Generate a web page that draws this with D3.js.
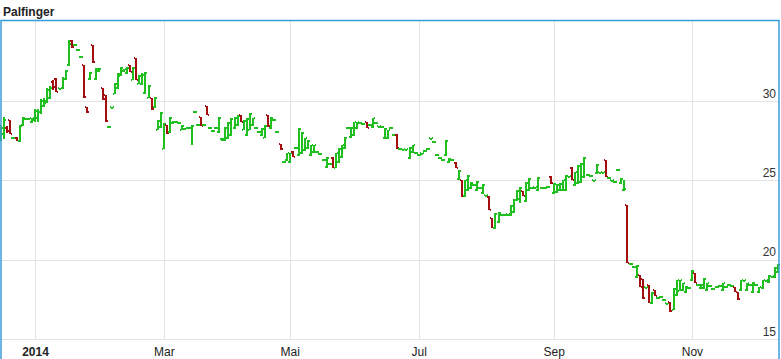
<!DOCTYPE html>
<html>
<head>
<meta charset="utf-8">
<script src="https://cdn.jsdelivr.net/npm/d3@7"></script>
<style>
  body { margin: 0; background: #fff; }
  svg { display: block; font-family: "Liberation Sans", Arial, sans-serif; }
</style>
</head>
<body>
<div id="chart"></div>
<script>
// trading days: weekdays from 2013-12-11 to 2014-12-11 minus exchange holidays
const firstDay = "2013-12-11", lastDay = "2014-12-11";
const holidays = ["2013-12-24", "2013-12-25", "2013-12-26", "2013-12-31",
  "2014-01-01", "2014-04-18", "2014-04-21", "2014-05-01"];

const tickDates = ["2014-01-02", "2014-03-03", "2014-05-02", "2014-07-01", "2014-09-01", "2014-11-03"];
const tickLabels = ["2014", "Mar", "Mai", "Jul", "Sep", "Nov"];
const priceTicks = [15, 20, 25, 30];

// daily OHLC
const open = [27.6,27.9,28.3,28.8,27.65,27.7,27.5,28.5,28.85,28.85,28.65,28.8,28.9,29.3,29.7,29.9,30.2,31.2,31.4,30.8,
  30.8,31.4,32.3,33.8,33.5,33.2,32.8,32.3,29.6,31.4,33.5,31.4,31.9,30.8,30.4,28.35,29.6,30.45,30.8,31.6,
  31.9,31.75,32.25,31.3,32.7,31.1,31.05,30.5,30.2,30.2,29.6,28.2,28.35,27.0,28.5,28.05,28.6,28.7,28.6,28.2,
  28.25,28.3,28.3,29.3,28.5,29.0,28.5,29.7,28.3,28.1,28.3,28.05,27.6,27.55,27.65,27.85,28.3,28.5,29.1,28.2,
  27.85,28.2,28.5,28.3,28.05,27.85,27.7,29.1,28.3,28.8,28.05,27.3,26.15,26.3,26.15,26.8,27.05,26.6,26.7,26.9,
  27.05,26.6,26.8,26.8,26.65,26.3,25.85,26.0,26.4,25.8,26.15,26.45,27.05,28.3,27.75,27.85,28.3,28.6,28.55,28.65,
  28.5,28.35,28.6,28.4,28.35,27.65,27.65,28.3,27.85,27.85,27.0,26.95,26.95,26.4,26.8,26.75,26.6,26.7,26.85,27.0,
  27.65,27.4,26.6,26.4,26.3,26.6,26.15,26.3,26.1,25.1,25.0,24.0,24.4,24.5,24.7,24.4,24.5,24.2,24.05,23.95,
  22.6,22.0,22.35,22.8,22.8,22.85,22.8,23.0,23.75,23.85,24.3,23.7,24.4,24.5,24.55,24.4,24.5,24.5,24.6,25.2,
  24.2,24.25,24.4,24.4,24.4,25.25,25.8,24.7,24.85,24.9,25.2,25.35,25.3,25.0,25.45,25.5,25.5,26.3,25.15,25.0,
  24.9,25.65,24.85,24.4,23.45,19.75,19.55,18.9,19.05,18.8,18.25,18.4,17.25,18.1,17.6,17.65,17.45,17.25,17.35,16.85,
  17.75,18.05,18.1,17.95,18.2,18.7,19.15,18.4,18.2,18.2,18.1,18.35,18.15,18.3,18.35,18.1,18.3,18.4,18.35,18.3,
  17.95,18.1,18.7,18.1,18.4,17.95,18.4,17.95,18.2,18.7,18.6,18.95,18.9,19.2];
const high = [28.5,29.0,28.4,28.8,27.75,27.75,28.5,29.0,28.9,28.95,28.95,29.5,29.5,30.1,30.2,30.85,30.95,31.3,31.45,30.85,
  31.5,31.95,33.85,33.85,33.6,33.25,32.85,32.3,29.6,31.8,33.55,32.1,32.1,30.85,30.4,28.4,29.65,31.15,31.75,32.15,
  32.05,32.15,32.3,32.15,32.7,31.65,31.75,31.8,31.0,30.2,30.25,28.8,29.3,28.6,28.5,29.0,28.75,28.75,28.65,28.5,
  28.3,28.35,28.5,29.35,28.55,29.0,28.55,29.7,28.35,28.15,28.35,29.0,27.65,28.35,28.65,28.9,29.0,29.1,29.15,28.8,
  28.9,29.25,28.95,28.35,28.1,28.3,28.5,29.15,29.0,28.85,28.1,27.3,26.2,26.75,26.75,26.85,27.1,28.3,28.05,27.7,
  27.55,27.25,27.25,26.85,26.7,26.35,26.45,26.1,26.45,26.75,27.05,27.25,27.75,28.35,28.35,28.7,28.7,28.65,28.6,28.65,
  28.55,28.95,28.65,28.45,28.4,28.3,28.2,28.35,27.9,27.9,27.05,27.0,27.0,27.1,27.25,26.8,26.65,26.75,26.9,27.05,
  27.7,27.45,26.65,26.45,26.35,27.55,26.4,26.35,26.15,25.65,25.05,25.05,25.35,24.9,24.75,24.95,24.55,24.75,24.1,24.0,
  22.65,22.95,23.0,22.85,22.85,22.9,23.45,23.8,24.4,24.55,24.35,24.9,25.15,24.55,24.6,25.2,24.55,24.55,24.65,25.25,
  24.85,24.75,24.85,25.05,25.35,25.3,25.85,25.55,25.95,26.1,26.45,25.4,25.35,25.05,26.0,25.55,25.55,26.3,25.2,25.05,
  24.95,25.7,25.15,25.05,23.45,19.8,19.6,19.65,19.05,18.8,18.3,18.4,17.95,18.1,17.65,17.7,17.5,17.3,17.35,18.2,
  18.75,18.75,18.55,18.35,18.25,19.35,19.15,18.45,18.45,18.85,18.55,18.4,18.2,18.35,18.4,18.55,18.35,18.45,18.4,18.3,
  17.95,18.75,18.75,18.55,18.45,18.6,18.45,18.3,18.75,18.75,19.05,19.0,19.55,19.7];
const low = [27.5,27.6,28.0,27.9,27.6,27.45,27.4,28.45,28.8,28.8,28.6,28.7,28.7,29.2,29.6,29.9,30.1,30.7,30.55,30.7,
  30.75,31.3,32.2,33.35,33.45,33.15,32.75,30.2,29.25,31.35,32.4,31.35,31.85,30.05,28.7,28.3,29.55,30.45,30.75,31.55,
  31.85,31.7,31.8,31.3,31.3,31.1,31.0,30.45,30.2,29.45,29.55,28.15,28.3,26.95,27.95,28.0,28.55,28.65,28.55,28.15,
  28.2,28.25,27.2,29.25,28.45,28.4,28.45,29.1,28.25,28.05,28.25,28.0,27.5,27.5,27.6,27.8,28.25,28.45,28.65,28.15,
  27.8,28.15,28.45,28.25,28.0,27.8,27.65,28.35,28.25,28.75,28.0,26.9,26.1,26.25,26.1,26.45,27.0,26.55,26.65,26.85,
  27.0,26.55,26.75,26.75,26.6,26.25,25.8,25.95,25.75,25.75,26.1,26.4,27.0,28.25,27.7,27.8,28.25,28.55,28.5,28.3,
  28.45,28.3,28.55,28.35,28.3,27.6,27.6,28.25,27.8,27.0,26.95,26.9,26.9,26.35,26.75,26.7,26.55,26.65,26.8,26.95,
  27.6,27.35,26.55,26.35,26.25,26.55,26.1,26.25,25.75,25.05,23.95,23.95,24.35,24.45,24.65,24.35,24.45,24.15,24.0,23.15,
  22.0,21.95,22.3,22.75,22.75,22.8,22.75,22.95,23.7,23.6,24.0,23.65,24.35,24.45,24.5,24.35,24.45,24.45,24.55,24.8,
  24.15,24.2,24.35,24.35,24.35,25.2,25.0,24.65,24.8,24.85,25.15,25.3,25.25,24.95,25.4,25.45,25.45,25.2,25.1,24.95,
  24.85,25.6,24.8,24.35,19.8,19.7,19.5,18.85,18.25,17.55,18.2,17.25,17.2,17.7,17.55,17.6,17.4,17.2,16.7,16.8,
  17.7,18.0,18.05,17.9,18.15,18.65,18.5,18.35,18.15,18.15,18.05,18.3,18.1,18.25,18.3,18.05,18.25,18.35,18.3,17.95,
  17.45,18.05,18.65,18.05,18.35,17.9,18.35,17.9,18.15,18.65,18.55,18.9,18.85,19.15];
const close = [28.3,28.8,28.1,27.95,27.7,27.5,28.4,28.9,28.85,28.9,28.9,29.4,29.3,30.0,30.0,30.7,30.8,30.9,30.6,30.8,
  31.4,31.9,33.6,33.4,33.55,33.2,32.8,30.25,29.3,31.75,32.45,32.0,32.05,30.1,28.75,28.35,29.65,31.1,31.7,32.1,
  32.0,32.1,31.85,32.1,31.35,31.6,31.65,31.75,30.95,29.5,30.2,28.75,29.25,28.55,28.0,28.95,28.7,28.7,28.6,28.45,
  28.3,28.3,28.4,29.3,28.5,28.45,28.5,29.1,28.3,28.1,28.3,28.9,27.6,28.3,28.6,28.85,28.95,29.05,28.7,28.75,
  28.85,29.2,28.9,28.3,28.05,28.25,28.45,28.4,28.95,28.8,28.05,26.95,26.15,26.7,26.7,26.5,27.05,28.25,28.0,27.65,
  27.5,27.2,27.2,26.8,26.65,26.3,26.4,26.05,25.8,26.7,27.0,27.2,27.7,28.3,28.3,28.65,28.65,28.6,28.55,28.3,
  28.5,28.9,28.6,28.4,28.35,28.25,28.15,28.3,27.85,27.05,27.0,26.95,26.95,27.05,27.2,26.75,26.6,26.7,26.85,27.0,
  27.65,27.4,26.6,26.4,26.3,27.5,26.35,26.3,25.8,25.6,24.0,25.0,25.3,24.85,24.7,24.9,24.5,24.7,24.05,23.15,
  22.0,22.9,22.95,22.8,22.8,22.85,23.4,23.75,24.35,24.5,24.0,24.85,25.1,24.5,24.55,25.15,24.5,24.5,24.6,24.85,
  24.8,24.7,24.8,25.0,25.3,25.25,25.05,25.5,25.9,26.05,26.4,25.35,25.3,25.0,25.95,25.5,25.5,25.2,25.15,25.0,
  24.9,25.65,25.1,24.45,19.8,19.75,19.55,19.6,18.3,17.6,18.25,17.3,17.9,17.7,17.6,17.65,17.45,17.25,16.75,18.15,
  18.7,18.7,18.5,18.3,18.2,19.3,18.5,18.4,18.4,18.8,18.5,18.35,18.15,18.3,18.35,18.5,18.3,18.4,18.35,17.95,
  17.5,18.7,18.7,18.5,18.4,18.55,18.4,18.25,18.7,18.7,19.0,18.95,19.5,19.65];

const parse = d3.timeParse("%Y-%m-%d"), fmt = d3.timeFormat("%Y-%m-%d");
const dates = d3.timeDay.range(parse(firstDay), d3.timeDay.offset(parse(lastDay), 1))
  .filter(d => d.getDay() !== 0 && d.getDay() !== 6)
  .map(fmt)
  .filter(d => !holidays.includes(d));

const bars = dates.map((d, i) => ({ date: d, o: open[i], h: high[i], l: low[i], c: close[i] }));

const width = 781, height = 359;
const up = "#1fbf1f", down = "#a50e0e";

const svg = d3.select("#chart").append("svg")
  .attr("width", width)
  .attr("height", height);

const x = d3.scalePoint().domain(dates).range([1.2, 777.9]);
const y = d3.scaleLinear().domain([15, 35]).range([339, 21.7]);

// title
svg.append("text")
  .attr("x", 3)
  .attr("y", 16)
  .attr("font-size", "12px")
  .attr("font-weight", "bold")
  .attr("fill", "#222")
  .text("Palfinger");

// horizontal grid + price labels
const yAxis = svg.append("g")
  .attr("transform", "translate(779,0)")
  .call(d3.axisLeft(y).tickValues(priceTicks).tickSize(778).tickFormat(d3.format("d")));
yAxis.select(".domain").remove();
yAxis.selectAll("line").attr("stroke", "#e3e3e3").attr("shape-rendering", "crispEdges");
yAxis.selectAll("text")
  .attr("x", -3)
  .attr("dy", "-4")
  .attr("text-anchor", "end")
  .attr("font-size", "12px")
  .attr("font-family", "Liberation Sans, Arial, sans-serif")
  .attr("fill", "#333");

// vertical grid + month labels
const xAxis = svg.append("g")
  .attr("transform", "translate(0,339)")
  .call(d3.axisTop(x).tickValues(tickDates).tickSize(319).tickFormat((d, i) => tickLabels[i]));
xAxis.select(".domain").remove();
xAxis.selectAll("line").attr("stroke", "#e3e3e3").attr("shape-rendering", "crispEdges");
xAxis.selectAll("text")
  .attr("y", 17)
  .attr("dy", 0)
  .attr("font-size", "12px")
  .attr("font-family", "Liberation Sans, Arial, sans-serif")
  .attr("font-weight", (d, i) => i === 0 ? "bold" : "normal")
  .attr("fill", "#222");

// OHLC bars
const g = svg.append("g").attr("shape-rendering", "crispEdges");
const bar = g.selectAll(".bar")
  .data(bars)
  .enter().append("g")
  .attr("class", "bar")
  .attr("fill", d => d.c >= d.o ? up : down);

bar.append("rect")
  .attr("x", d => Math.round(x(d.date)) - 1)
  .attr("y", d => y(d.h))
  .attr("width", 2)
  .attr("height", d => Math.max(2, y(d.l) - y(d.h)));
bar.append("rect")
  .attr("x", d => Math.round(x(d.date)) - 2)
  .attr("y", d => y(d.o) - 1)
  .attr("width", 1)
  .attr("height", 2);
bar.append("rect")
  .attr("x", d => Math.round(x(d.date)) + 1)
  .attr("y", d => y(d.c) - 1)
  .attr("width", 1)
  .attr("height", 2);

// frame
svg.append("rect")
  .attr("x", 1)
  .attr("y", 20.5)
  .attr("width", 778)
  .attr("height", 360)
  .attr("fill", "none")
  .attr("stroke", "#3b9bd8")
  .attr("stroke-width", 1.5);
</script>
</body>
</html>
